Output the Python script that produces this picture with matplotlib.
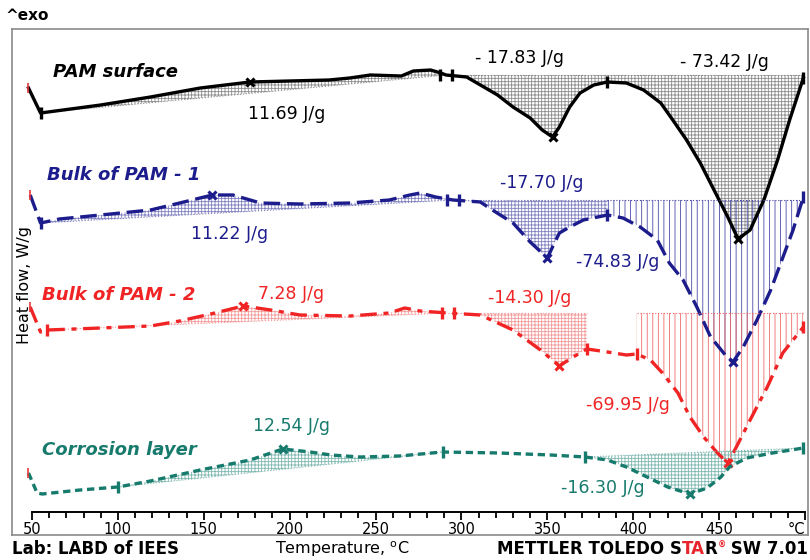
import numpy as np
import matplotlib.pyplot as plt
from matplotlib.path import Path

plt.rcParams['font.family'] = 'DejaVu Sans'
plt.rcParams['hatch.linewidth'] = 0.6

# DSC curves, temperature in degC, heat flow in W/g (curves shifted for display)
surf_t = [48, 55, 90, 119, 148, 177, 200, 223, 235, 247, 265, 272, 282, 288, 291, 303,
          311, 321, 330, 340, 347, 353, 357, 363, 369, 377, 385, 396, 406, 416, 423, 431,
          439, 447, 455, 461, 468, 476, 484, 491, 499]
surf_hf = [4.47, 4.22, 4.30, 4.38, 4.47, 4.53, 4.54, 4.55, 4.57, 4.60, 4.59, 4.64, 4.65,
           4.62, 4.60, 4.58, 4.50, 4.40, 4.28, 4.17, 4.05, 3.98, 4.08, 4.28, 4.42, 4.50,
           4.53, 4.52, 4.45, 4.32, 4.15, 3.95, 3.72, 3.45, 3.18, 2.96, 3.05, 3.35, 3.75,
           4.15, 4.57]

bulk1_t = [49, 55, 66, 90, 119, 136, 155, 167, 183, 206, 235, 258, 270, 276, 285, 295,
           311, 318, 330, 340, 350, 353, 357, 363, 371, 385, 394, 404, 414, 421, 429, 437,
           445, 455, 458, 464, 472, 480, 493, 499]
bulk1_hf = [3.40, 3.12, 3.16, 3.20, 3.25, 3.32, 3.40, 3.40, 3.32, 3.31, 3.32, 3.35, 3.40,
            3.42, 3.38, 3.35, 3.33, 3.25, 3.12, 2.93, 2.77, 2.88, 3.02, 3.08, 3.15, 3.20,
            3.17, 3.08, 2.95, 2.72, 2.55, 2.28, 1.98, 1.77, 1.73, 1.88, 2.15, 2.45, 3.05,
            3.38]

bulk2_t = [49, 55, 59, 90, 119, 136, 154, 173, 189, 206, 235, 258, 267, 276, 292, 311,
           330, 346, 357, 365, 373, 385, 396, 402, 410, 417, 426, 433, 441, 449, 455, 460,
           468, 478, 487, 499]
bulk2_hf = [2.28, 2.03, 2.05, 2.07, 2.09, 2.14, 2.21, 2.29, 2.25, 2.20, 2.19, 2.22, 2.27,
            2.24, 2.22, 2.20, 2.05, 1.85, 1.69, 1.78, 1.86, 1.83, 1.80, 1.81, 1.75, 1.62,
            1.42, 1.18, 0.98, 0.82, 0.72, 0.88, 1.15, 1.48, 1.82, 2.08]

corr_t = [48, 53, 56, 78, 100, 119, 148, 177, 196, 212, 224, 241, 264, 289, 322, 352,
          372, 385, 396, 408, 420, 433, 443, 451, 456, 466, 481, 499]
corr_hf = [0.62, 0.42, 0.41, 0.45, 0.48, 0.54, 0.65, 0.75, 0.86, 0.83, 0.80, 0.78, 0.79,
           0.83, 0.82, 0.80, 0.78, 0.75, 0.68, 0.58, 0.48, 0.41, 0.47, 0.58, 0.68, 0.77,
           0.82, 0.87]

# integration ranges: (start, end, baseline at start, baseline at end, label)
surf_areas = [(55, 291, 4.22, 4.60, '11.69 J/g'), (291, 385, 4.60, 4.60, '- 17.83 J/g'),
              (385, 499, 4.60, 4.60, '- 73.42 J/g')]
bulk1_areas = [(55, 295, 3.12, 3.35, '11.22 J/g'), (295, 385, 3.35, 3.35, '-17.70 J/g'),
               (385, 499, 3.35, 3.35, '-74.83 J/g')]
bulk2_areas = [(59, 292, 2.05, 2.22, '7.28 J/g'), (292, 373, 2.22, 2.22, '-14.30 J/g'),
               (402, 499, 2.22, 2.22, '-69.95 J/g')]
corr_areas = [(100, 289, 0.48, 0.83, '12.54 J/g'), (372, 499, 0.78, 0.87, '-16.30 J/g')]

surf_peaks = [177, 353, 461]
bulk1_peaks = [155, 350, 458]
bulk2_peaks = [173, 357, 455]
corr_peaks = [196, 433]

# label positions (T, heat flow) for the enthalpy values
surf_lbl = [(198, 4.21), (334, 4.77), (453, 4.73)]
bulk1_lbl = [(165, 3.01), (347, 3.52), (391, 2.73)]
bulk2_lbl = [(201, 2.41), (340, 2.37), (397, 1.30)]
corr_lbl = [(201, 1.09), (382, 0.47)]

names = ['PAM surface', 'Bulk of PAM - 1', 'Bulk of PAM - 2', 'Corrosion layer']
name_pos = [(62, 4.63), (59, 3.60), (56, 2.40), (56, 0.85)]

colors = ['#000000', '#1c1c8c', '#f02424', '#167a6c']
hatch_colors = [['#8c8c8c', '#8c8c8c', '#8c8c8c'],
                ['#8080c0', '#8080c0', '#4a4aa8'],
                ['#f29a9a', '#f29a9a', '#ef6a6a'],
                ['#7fb8b0', '#7fb8b0']]
hatches = [['+++++', '+++++', '+++++'],
           ['+++++', '+++++', '|||'],
           ['+++++', '+++++', '|||'],
           ['+++++', '+++++']]
styles = ['-', (0, (5, 2)), (0, (5, 2, 1.5, 2)), (0, (2.2, 1.4))]

double_bar = Path([(-1, -1), (-1, 1), (1, -1), (1, 1)],
                  [Path.MOVETO, Path.LINETO, Path.MOVETO, Path.LINETO])

fig = plt.figure(figsize=(8.1, 5.6), dpi=100)
ax = fig.add_axes([12 / 810, 25 / 560, 796 / 810, 506 / 560])
ax.set_xlim(38.4, 501.7)
ax.set_ylim(0, 5.06)
ax.set_xticks([])
ax.set_yticks([])
for s in ax.spines.values():
    s.set_color('#8a8a8a')
    s.set_linewidth(1.2)

series = [(surf_t, surf_hf, surf_areas, surf_peaks, surf_lbl),
          (bulk1_t, bulk1_hf, bulk1_areas, bulk1_peaks, bulk1_lbl),
          (bulk2_t, bulk2_hf, bulk2_areas, bulk2_peaks, bulk2_lbl),
          (corr_t, corr_hf, corr_areas, corr_peaks, corr_lbl)]

for i, (t, hf, areas, peaks, lbls) in enumerate(series):
    t = np.asarray(t, dtype=float)
    hf = np.asarray(hf)
    c = colors[i]
    for j, (t0, t1, b0, b1, txt) in enumerate(areas):
        m = (t >= t0) & (t <= t1)
        base = np.interp(t[m], [t0, t1], [b0, b1])
        ax.fill_between(t[m], hf[m], base, facecolor='none', edgecolor=hatch_colors[i][j],
                        hatch=hatches[i][j], linewidth=0)
        ax.plot([t0, t1], [b0, b1], color=hatch_colors[i][j], lw=0.8, ls=':')
        ax.text(lbls[j][0], lbls[j][1], txt, color=c, fontsize=12.5,
                ha='center', va='center')
    ax.plot(t, hf, color=c, lw=2.4, ls=styles[i])
    ax.plot(peaks, np.interp(peaks, t, hf), 'x', color=c, ms=6, mew=2.2)
    limits = sorted(set([a[0] for a in areas] + [a[1] for a in areas]))
    for k, lim in enumerate(limits):
        mk = double_bar if (k == 1 and i < 3) else '|'
        ax.plot(lim, np.interp(lim, t, hf), marker=mk, color=c, ms=9, mew=2.4)
    ax.plot(t[0], hf[0], '|', color='#e8383d', ms=7, mew=1.2)
    ax.text(name_pos[i][0], name_pos[i][1], names[i], color=c, fontsize=13,
            fontweight='bold', fontstyle='italic', ha='left', va='center')

# temperature scale drawn inside the frame
tax = fig.add_axes([32 / 810, 48 / 560, 773 / 810, 0.001])
tax.set_xlim(50, 500)
major = np.arange(50, 501, 50)
tax.set_xticks(major)
tax.set_xticklabels([str(v) for v in major[:-1]] + ['°C'])
tax.get_xticklabels()[-1].set_ha('right')
tax.set_xticks(np.arange(50, 501, 10), minor=True)
tax.set_yticks([])
for s in ['top', 'left', 'right']:
    tax.spines[s].set_visible(False)
tax.spines['bottom'].set_linewidth(1.4)
tax.patch.set_visible(False)
tax.tick_params(axis='x', which='major', direction='out', length=6, width=1.3,
                labelsize=10.5, pad=1.5)
tax.tick_params(axis='x', which='minor', direction='out', length=4, width=1.3)

fig.text(5 / 810, 1 - 15 / 560, '^exo', fontsize=11, fontweight='bold', va='center')
fig.text(25 / 810, 1 - 285 / 560, 'Heat flow, W/g', fontsize=11.5, rotation=90,
         ha='center', va='center')
fig.text(12 / 810, 1 - 549 / 560, 'Lab: LABD of IEES', fontsize=12, fontweight='bold',
         va='center')
fig.text(342 / 810, 1 - 549 / 560, 'Temperature, $^{\\mathregular{o}}$C', fontsize=11.5,
         ha='center', va='center')
t1 = fig.text(497 / 810, 1 - 549 / 560, 'METTLER TOLEDO S', fontsize=12,
              fontweight='bold', va='center')
t2 = ax.annotate('TA', xy=(1, 0), xycoords=t1, va='bottom', fontsize=12,
                 fontweight='bold', color='#e8242c')
t3 = ax.annotate('R', xy=(1, 0), xycoords=t2, va='bottom', fontsize=12,
                 fontweight='bold')
t4 = ax.annotate('®', xy=(1, 0.45), xycoords=t3, va='bottom', fontsize=6,
                 fontweight='bold', color='#e8242c')
ax.annotate(' SW 7.01', xy=(1, 0), xycoords=t3, xytext=(5, 0), textcoords='offset points',
            va='bottom', fontsize=12, fontweight='bold')

fig.savefig('out.png', dpi=100)
